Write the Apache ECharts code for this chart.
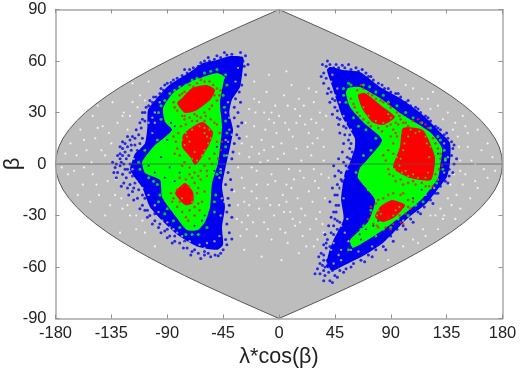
<!DOCTYPE html>
<html><head><meta charset="utf-8">
<style>html,body{margin:0;padding:0;background:#fff}#c{width:520px;height:373px}</style>
<script src="https://cdn.jsdelivr.net/npm/echarts@6/dist/echarts.min.js"></script>
</head><body><div id="c"></div>
<script>
const xTicks=[-180,-135,-90,-45,0,45,90,135,180];
const yTicks=[-90,-60,-30,0,30,60,90];
// sky boundary: [longitude extent, latitude]
const boundary=[[180,0],[179.3,5],[177.3,10],[173.9,15],[169.1,20],[163.1,25],[155.9,30],[147.4,35],[137.9,40],[127.3,45],[115.7,50],[103.2,55],[90,60],[76.1,65],[61.6,70],[46.6,75],[31.3,80],[15.7,85],[0,90]];
const equator=[[-180,0],[180,0]];
const leftBlue=[[-29,62.3],[-39.4,62.9],[-49.9,60.6],[-61.2,58.8],[-71.6,53.6],[-82.1,48.9],[-90.2,44.9],[-98.2,38.4],[-105.5,31.5],[-106,21.6],[-108,12],[-116,6],[-118,2],[-120,-3],[-116,-8],[-110,-14],[-104,-25],[-94,-33],[-82.1,-41],[-66,-48],[-49.9,-50],[-45.1,-47.2],[-45.9,-36.7],[-43.5,-25],[-45.9,-13.4],[-43.5,-3.5],[-39.4,9.9],[-37,19.8],[-40,29.7],[-38,37.3],[-31.4,44.9],[-29,56.5]];
const leftGreen=[[-43.5,50.7],[-49.9,53],[-61.2,50.7],[-71.6,47.8],[-85.3,41.4],[-93.4,32.6],[-91.8,24.5],[-86.1,19.8],[-101.4,9.9],[-109.5,2.3],[-110.3,0.6],[-107.9,-5.2],[-95.8,-9.3],[-94.2,-19.2],[-85.3,-28.5],[-74.1,-38.4],[-65.2,-38.4],[-59.6,-33.8],[-55.5,-25],[-53.9,-11.1],[-49.1,0.6],[-45.9,21.6],[-47.5,35.5],[-44.3,48.9]];
const leftRedTop=[[-51.5,43.1],[-58,46],[-70,44.3],[-78.1,38.4],[-82.1,35.5],[-75.7,29.7],[-66,31.5],[-55.5,37.3]];
const leftRedMid=[[-61.2,24.5],[-53.1,18.6],[-55.5,12.2],[-62,4.1],[-67.6,-0.6],[-71.6,4.1],[-78.1,9.9],[-77.3,16.9],[-70,21.6]];
const leftRedLow=[[-75.7,-11.1],[-69.2,-16.3],[-69.2,-22.7],[-75.7,-23.9],[-83.7,-16.9]];
const rightBlue=[[41.1,56.5],[51.5,54.8],[65.2,53.6],[81.3,44.9],[97.4,38.4],[115.9,28.5],[129.6,18.6],[137.7,12.2],[137.7,0.6],[135.2,-7.6],[128,-14.6],[119.1,-22.7],[103,-32],[83.7,-46],[67.6,-53.6],[51.5,-59.4],[44,-62],[38,-60],[40,-52],[44,-44],[52,-32],[50,-20.4],[53,-5.2],[57,0.6],[61,9.3],[61,15.1],[51,27.4],[43,44.9],[38.6,54.8]];
const rightGreen=[[55.6,44.3],[65.2,44.9],[81.3,38.4],[99.8,28.5],[121.6,18.6],[131.2,9.3],[129.6,-1.7],[128,-8.2],[115.9,-19.8],[99.8,-29.7],[81.3,-39.6],[59.6,-48.9],[57.2,-44.3],[71.6,-33.8],[77.3,-21],[63.6,-8.2],[65.2,-2.3],[70.9,2.3],[82.9,14],[67.6,24.5],[57.2,33.2],[53.9,41.4]];
const rightRedTop=[[63.6,40.2],[69.2,41.4],[83.7,33.2],[93.4,27.4],[83.7,22.7],[74.9,24.5],[66.8,32.6]];
const rightRedMid=[[99.8,21],[115.9,19.8],[125.6,4.1],[122.4,-9.3],[105.5,-8.2],[95.8,-4.7],[91.8,-1.7],[97.4,9.9]];
const rightRedLow=[[77.3,-30.9],[81.3,-25],[91,-21],[101.5,-23.9],[93.4,-30.9],[83.7,-33.8]];
const blueDots=[[-27,63],[-29,60],[-28,57],[-33,62],[-38,64],[-42,63.5],[-47,62],[-52,61],[-56,60],[-60,60],[-65,57],[-69,56],[-74,53],[-78,51.5],[-82,50],[-87,47.5],[-90,47],[-93,43],[-96,41],[-99,39],[-102,36],[-105,34],[-108,30],[-110,26],[-108,25],[-111,21],[-113,17],[-116,15],[-120,14],[-124,12],[-126,9],[-128,6],[-128,3],[-131,0],[-132,-2],[-130,-5],[-131,-8],[-125,-11],[-122,-14],[-118,-16],[-114,-20],[-110,-24],[-108,-27],[-104,-30],[-100,-33],[-97,-37],[-92,-39],[-88,-42],[-84,-45],[-80,-46],[-74,-49],[-70,-51],[-65,-52],[-60,-53],[-55,-54],[-51.5,-53],[-49,-53.5],[-47,-52],[-45,-50],[-42,-47],[-38,-43.7],[-42,-35],[-42,-28],[-41,-20],[-43,-12],[-41,-5],[-38,3],[-36,12],[-34,17],[-33,22],[-36,27],[-36,33],[-35,38],[-30,46],[-27,52],
[38,57],[41,58],[44,56],[48,56],[53,56],[58,55],[62,56],[67,55],[72,51],[76,49],[80,47],[85,44],[90,42],[94,41],[98,39],[102,36],[106,34],[110,33],[114,30],[118,28],[122,25],[126,22],[130,20],[133,17],[136,15],[139,13],[140,9],[139,5],[141,0],[137,-3],[137,-7],[134,-10],[130,-13],[126,-17],[122,-21],[117,-25],[112,-28],[106,-32],[100,-36],[95,-38],[90,-42],[84,-48],[78,-50],[72,-53],[66,-56],[60,-58],[54,-61],[49,-62],[45,-65],[41,-68],[37,-65],[33,-64],[31,-61],[35,-59],[36,-56],[34,-52],[38,-49],[39,-44],[42,-40],[44,-36],[47,-33],[44,-28],[46,-24],[45,-18],[47,-12],[50,-9],[48,-4],[52,1],[55,4],[57,9],[56,14],[53,17],[52,22],[47,27],[45,33],[43,38],[40,44],[38,50],[36,53],
[-31,65],[-36,60.5],[-44,65],[-50,63],[-57,62],[-63,59],[-72,55],[-76,55],[-85,49],[-92,46],[-95,44],[-101,39],[-104,37],[-107,33],[-110,30],[-112,24],[-115,20],[-118,16],[-122,16],[-126,13],[-128,10],[-130,5],[-133,-5],[-134,1],[-127,-13],[-121,-18],[-117,-21],[-112,-26],[-106,-31],[-102,-35],[-95,-40],[-90,-43],[-86,-46],[-77,-49],[-71,-53],[-63,-55],[-57,-52],[-43,-44],[-40,-40],[-38,-31],[-40,-24],[-38,-15],[-39,-9],[-37,7],[-32,15],[-30,24],[-33,30],[-31,36],[-32,42],[-25,58],
[35,58],[39,60],[46,58],[51,57.5],[56,58],[64,54],[70,53],[74,51],[83,46],[88,44],[96,41],[104,37],[112,32],[120,27],[128,21],[135,18],[141,11],[143,3],[140,-5],[136,-11],[128,-17],[124,-23],[114,-29],[108,-34],[102,-38],[92,-45],[86,-50],[75,-54],[69,-57],[58,-60],[52,-63],[47,-66],[43,-69],[36,-68],[29,-64],[33,-58],[32,-54],[36,-47],[37,-41],[40,-36],[42,-31],[41,-22],[43,-14],[45,-7],[44,-1],[48,3],[51,7],[52,12],[49,18],[48,23],[43,29],[41,36],[39,41],[36,47],[34,51],
[-122,10],[-119,8],[-124,7],[-121,5],[-126,5],[-123,3],[-120,0],[-125,0],[-128,-1],[-122,-3],[-126,-6],[-123,-8],[-118,-7],[-120,-12],[-116,-11],[-113,-15],[-110,-18],[-117,-14],[-119,11],[-116,11],[-114,8],[-120,-5],[-127,1],[-124,-3],[-112,12],[-110,15],[-108,-20],[-106,-27],[-100,-29],[-96,-35],[-90,-38],[-84,-42],[-76,-45],[-68,-50],[-60,-51],[-112,-10],
[37,-60],[40,-63],[36,-62],[43,-62],[39,-56],[36,-53],[42,-55],[38,-46],[41,-48],[44,-41],[47,-38],[45,-32],[49,-34],[46,-28],[48,-24],[47,-18],[49,-14],[51,-10],[50,-5],[54,-1],[57,3],[59,7],[58,12],[57,17],[54,21],[49,26],[47,31],[45,37],[42,42]];
const greyHoles=[[-117,3],[-113,9],[-118,-3],[-115,-10],[-110,-14],[-105,-18],[-100,-24],[-97,-28],[-90,-34],[-85,-38],[-78,-42],[-72,-45],[-64,-47],[-105,24],[-102,18],[-100,30],[-96,36],[-40,20],[-43,14],[-40,27],[-47,-3],[-46,-20],[-47,-30],[-52,-45],[-60,-49],[-42,5],[42,48],[45,40],[47,34],[52,28],[58,20],[60,14],[57,5],[55,-3],[50,-14],[52,-20],[46,-40],[42,-50],[38,-58],[44,-58],[50,-50],[56,-45],[55,-32],[50,-27],[53,-40],[48,-53],[136,4],[133,-5],[125,-14],
[-113,-17],[-108,-22],[-103,-27],[-94,-33],[-88,-37],[-82,-40],[-76,-46],[-68,-48],[-58,-46],[-48,-42],[-44,-22],[-48,-8],[-41,13],[-38,17],[-43,30],[-41,36],[-35,48],[-33,56],[-102,27],[-100,24],[-108,18],[-110,12],[47,44],[43,52],[49,36],[54,24],[56,18],[52,-8],[49,-18],[48,-30],[50,-36],[44,-46],[38,-52],[40,-61],[50,-56],[58,-50],[64,-51],[75,-48],[88,-44],[100,-33],[118,-18],[128,-9],[134,2],[133,12]];
const greenDots=[[-43,52],[-50,55],[-60,53],[-70,49],[-80,45],[-88,41],[-95,34],[-95,26],[-104,5],[-112,-3],[-105,-8],[-98,-12],[-96,-18],[-90,-26],[-85,-33],[-75,-41],[-65,-41],[-58,-37],[-52,-28],[-51,-18],[-47,-5],[-43,10],[-43,25],[-45,40],[52,44],[58,46],[68,46],[78,42],[88,36],[102,30],[115,24],[128,16],[133,8],[132,-3],[122,-14],[110,-24],[96,-32],[84,-38],[72,-43],[62,-47],[66,-38],[74,-27],[72,-15],[62,-5],[68,5],[78,15],[70,20],[60,27],[54,36],
[-55,54],[-66,50],[-75,46],[-84,43],[-92,37],[-97,30],[-98,14],[-108,8],[-113,1],[-101,-10],[-97,-22],[-92,-29],[-80,-37],[-70,-41],[-52,-22],[-50,-6],[-44,5],[-42,18],[-44,33],[-42,46],[56,47],[73,45],[84,40],[95,34],[108,27],[122,21],[130,14],[134,3],[127,-11],[116,-22],[104,-30],[90,-37],[78,-42],[56,-50],[68,-36],[80,-18],[68,-6],[74,8],[86,12],[64,22],[52,40]];
const blueInGreen=[[-98,20],[-105,-1],[-100,-5],[-92,-8],[-87,24],[-84,22],[-68,-36],[-62,-33],[-80,-5],[80,-33],[65,-41],[70,-38],[100,-25],[115,-15],[72,8],[-90,14],[-95,4],[-88,-2],[-84,-10],[-50,10],[-52,-4],[-56,-28],[-60,-30],[124,-2],[128,6],[66,-44],[76,-36],[90,-30],[108,-20],[74,-20]];
const redDots=[[-50,44],[-48,40],[-53,46],[-60,48],[-66,47],[-72,46],[-76,42],[-80,40],[-85,36],[-82,31],[-78,28],[-72,27],[-66,28],[-60,30],[-54,34],[-50,37],[-59,28],[-63,27],[-66,25],[-55,26],[-50,23],[-48,18],[-50,13],[-47,8],[-52,6],[-56,3],[-60,-1],[-63,-4],[-68,-5],[-72,-2],[-76,1],[-80,5],[-82,9],[-83,13],[-81,18],[-79,22],[-75,23],[-70,25],[-58,-4],[-70,-8],[-75,-9],[-80,-8],[-68,-11],[-63,-9],[-65,-14],[-85,-20],[-87,-17],[-82,-25],[-78,-28],[-72,-27],[-68,-30],[-62,-22],[-60,-16],[-64,-27],[-75,-31],[-70,-20],[63,43],[68,44],[72,41],[78,38],[84,36],[90,33],[95,30],[98,26],[94,24],[87,22],[80,21],[74,22],[68,26],[63,30],[60,35],[58,38],[96,23],[102,24],[108,25],[114,24],[120,21],[124,15],[128,9],[130,3],[129,-3],[128,-9],[124,-13],[118,-13],[110,-12],[104,-11],[98,-9],[92,-7],[88,-3],[86,2],[88,8],[92,12],[90,16],[94,18],[74,-29],[76,-35],[80,-37],[86,-37],[92,-35],[98,-34],[102,-29],[106,-26],[104,-21],[98,-18],[92,-17],[84,-20],[78,-23],[74,-25],[100,-35],[88,-31],
[-56,48],[-63,49],[-69,45],[-78,41],[-84,33],[-76,26],[-68,29],[-56,32],[-52,40],[-47,43],[-52,24],[-46,13],[-49,3],[-54,0],[-58,-7],[-65,-7],[-72,-6],[-78,-1],[-84,6],[-85,16],[-76,28],[-60,25],[-73,-13],[-78,-13],[-82,-15],[-86,-22],[-80,-22],[-66,-17],[-65,-23],[-68,-25],[-73,-33],[66,46],[75,40],[82,37],[88,35],[97,28],[100,24],[90,23],[83,19],[72,24],[65,28],[61,33],[104,22],[112,26],[118,23],[126,12],[130,6],[131,-1],[126,-6],[121,-13],[115,-11],[108,-10],[100,-12],[94,-10],[89,-6],[84,5],[92,6],[95,16],[92,20],[72,-32],[79,-36],[90,-38],[97,-30],[104,-25],[108,-22],[100,-17],[88,-18],[80,-21]];
const greenHoles=[[-75,18],[-72,13],[-60,18],[-57,12],[-68,7],[-60,21],[-70,20],[-78,14],[-56,20],[-62,5],[-66,2],[-78,-20],[-70,-22],[104,16],[100,8],[98,3],[110,18],[97,-1],[102,-4],[108,-6],[96,14],[112,-8],[120,-5],[122,10],[118,16],[82,-29],[94,-27],[79,-30],[92,-30],[68,33],[72,28],[88,29],
[-74,16],[-58,16],[-64,22],[-76,11],[-60,8],[-70,3],[-55,15],[101,12],[98,18],[106,20],[113,19],[119,12],[121,4],[118,-8],[104,-7],[99,-5],[95,4],[96,9],[93,-3],[97,-25],[80,-27],[76,-28],[84,24],[78,25],[90,27]];
const whiteDots=[[-172,6],[-165,-4],[-168,12],[-160,20],[-155,8],[-150,-6],[-158,-12],[-148,15],[-142,22],[-150,28],[-140,5],[-138,-10],[-145,-18],[-152,-22],[-135,12],[-130,24],[-125,30],[-132,-18],[-126,-26],[-120,-30],[-115,-38],[-140,-30],[-128,-40],[-118,36],[-112,40],[-122,20],[-162,-18],[-170,-6],[-146,34],[-134,36],[-108,-40],[-100,-48],[-105,48],[-118,47],
[-30,-8],[-24,4],[-18,-12],[-12,8],[-6,-6],[2,12],[8,-3],[14,9],[20,-8],[26,5],[32,-14],[36,10],[-32,6],[-26,16],[-20,22],[-14,14],[-8,26],[-2,18],[5,24],[11,16],[17,28],[24,18],[30,24],[35,20],[38,28],[-28,-22],[-22,-16],[-16,-26],[-10,-20],[-4,-30],[3,-18],[9,-28],[15,-20],[21,-30],[27,-22],[33,-28],[37,-20],[-34,-32],[-26,-38],[-18,-42],[-12,-34],[-6,-44],[1,-38],[7,-46],[13,-36],[19,-42],[25,-38],[31,-44],[-24,32],[-16,36],[-10,42],[-3,34],[4,40],[10,46],[16,38],[24,44],[28,36],[-20,48],[-8,52],[6,54],[-28,-50],[-14,-54],[2,-56],[16,-52],[-33,-2],[-15,1],[-9,-12],[-1,3],[12,-9],[28,-3],[36,2],[-36,-16],[-25,-30],[6,-12],[18,2],[31,15],[-30,-34],[22,-48],[4,-28],[-18,-4],[40,-8],[-5,10],
[143,-18],[150,-6],[158,-10],[165,-3],[172,4],[168,12],[160,20],[152,10],[146,2],[142,24],[148,28],[136,30],[128,34],[120,38],[108,44],[116,-38],[122,-30],[130,-26],[136,-20],[146,-26],[154,-20],[160,-14],[142,-32],[128,-38],[112,-46],[100,-48],[88,-56],[174,-4],[144,16],[138,-12],[155,2],[124,42],[96,50],[132,-32],
[-175,-2],[-163,5],[-157,14],[-147,-12],[-143,8],[-137,18],[-131,-9],[-127,-20],[-136,-24],[-122,-24],[-115,-30],[-110,-33],[-126,28],[-120,28],[-114,33],[-108,37],[-157,-2],[-151,1],[-146,21],[-28,-14],[-22,-2],[-16,6],[-9,2],[-3,-10],[4,6],[10,-14],[17,-4],[23,10],[29,-10],[34,-6],[-30,12],[-22,10],[-11,20],[-4,24],[8,20],[14,24],[21,23],[27,12],[33,30],[-27,24],[-19,30],[-6,30],[0,28],[13,32],[26,26],[-33,-24],[-24,-24],[-18,-20],[-7,-24],[0,-24],[6,-22],[18,-26],[24,-16],[30,-32],[35,-35],[-31,-42],[-21,-34],[-9,-38],[5,-40],[11,-32],[28,-48],[17,-34],[36,-40],[-20,38],[-12,30],[7,34],[20,34],[30,42],[158,0],[163,8],[148,-12],[141,-6],[145,10],[152,18],[139,-24],[133,-30],[126,-30],[118,-42],[108,-44],[122,32],[132,26],[140,20],[115,38],[102,46],[168,-8],[150,22],[146,-4]];
function poly(points,fill,stroke,z,smooth){
  return {type:'custom',coordinateSystem:'cartesian2d',data:points,encode:{x:0,y:1},z:z,silent:true,
    renderItem:function(params,api){
      if(params.dataIndex!==0) return;
      return {type:'polygon',shape:{points:points.map(function(p){return api.coord(p);}),smooth:smooth||0},
        style:{fill:fill,stroke:stroke||null,lineWidth:1}};
    }};
}
function dots(points,color,z,size){
  return {type:'scatter',data:points,symbol:'circle',symbolSize:size||2.6,itemStyle:{color:color},z:z,silent:true,clip:true};
}
const lens=[].concat(
  boundary.map(function(p){return [p[0],p[1]];}),
  boundary.slice(0,-1).reverse().map(function(p){return [-p[0],p[1]];}),
  boundary.slice(1).map(function(p){return [-p[0],-p[1]];}),
  boundary.slice(1,-1).reverse().map(function(p){return [p[0],-p[1]];})
);
const BLUE='#0000f0',GREEN='#00ff00',RED='#ff0000';
const font='"Liberation Sans",Arial,sans-serif';
const chart=echarts.init(document.getElementById('c'),null,{renderer:'canvas'});
function xa(pos,show){return {type:'value',position:pos,min:-180,max:180,interval:45,z:20,nameMoveOverlap:false,
  axisLine:{show:true,onZero:false,lineStyle:{color:'#a8a8a8',width:1.5}},
  axisTick:{show:true,inside:true,length:4,lineStyle:{color:'#909090',width:1}},splitLine:{show:false},
  axisLabel:{show:show,color:'#222',fontSize:16.5,fontFamily:font,margin:6},
  name:show?'λ*cos(β)':'',nameLocation:'middle',nameGap:28,nameTextStyle:{color:'#222',fontSize:21.5,fontFamily:font}};}
function ya(pos,show){return {type:'value',position:pos,min:-90,max:90,interval:30,z:20,nameMoveOverlap:false,
  axisLine:{show:true,onZero:false,lineStyle:{color:'#a8a8a8',width:1.5}},
  axisTick:{show:true,inside:true,length:4,lineStyle:{color:'#909090',width:1}},splitLine:{show:false},
  axisLabel:{show:show,color:'#222',fontSize:16.5,fontFamily:font,margin:9},
  name:show?'β':'',nameLocation:'middle',nameGap:32,nameTextStyle:{color:'#222',fontSize:22,fontFamily:font}};}
chart.setOption({
  animation:false,
  grid:{left:55.5,right:17.5,top:9.5,bottom:54.5,containLabel:false,outerBoundsMode:'none'},
  xAxis:[xa('bottom',true),xa('top',false)],
  yAxis:[ya('left',true),ya('right',false)],
  series:[
    poly(lens,'#bdbdbd','#555',1),
    dots(whiteDots,'#ffffff',2,2.2),
    poly(leftBlue,BLUE,null,3,0.2),poly(rightBlue,BLUE,null,3,0.2),
    dots(blueDots,BLUE,3,3),
    dots(greyHoles,'#bdbdbd',4,2.4),
    poly(leftGreen,GREEN,null,5,0.2),poly(rightGreen,GREEN,null,5,0.2),
    dots(greenDots,GREEN,5,3),
    dots(blueInGreen,BLUE,5,2.2),
    poly(leftRedTop,RED,null,6,0.2),poly(leftRedMid,RED,null,6,0.2),poly(leftRedLow,RED,null,6,0.2),
    poly(rightRedTop,RED,null,6,0.2),poly(rightRedMid,RED,null,6,0.2),poly(rightRedLow,RED,null,6,0.2),
    dots(redDots,'#f02000',6,2.6),
    dots(greenHoles,'#30e000',7,2.2),
    {type:'line',data:equator,symbol:'none',z:8,silent:true,lineStyle:{color:'#555',width:1,opacity:0.7}}
  ]
});
</script></body></html>
